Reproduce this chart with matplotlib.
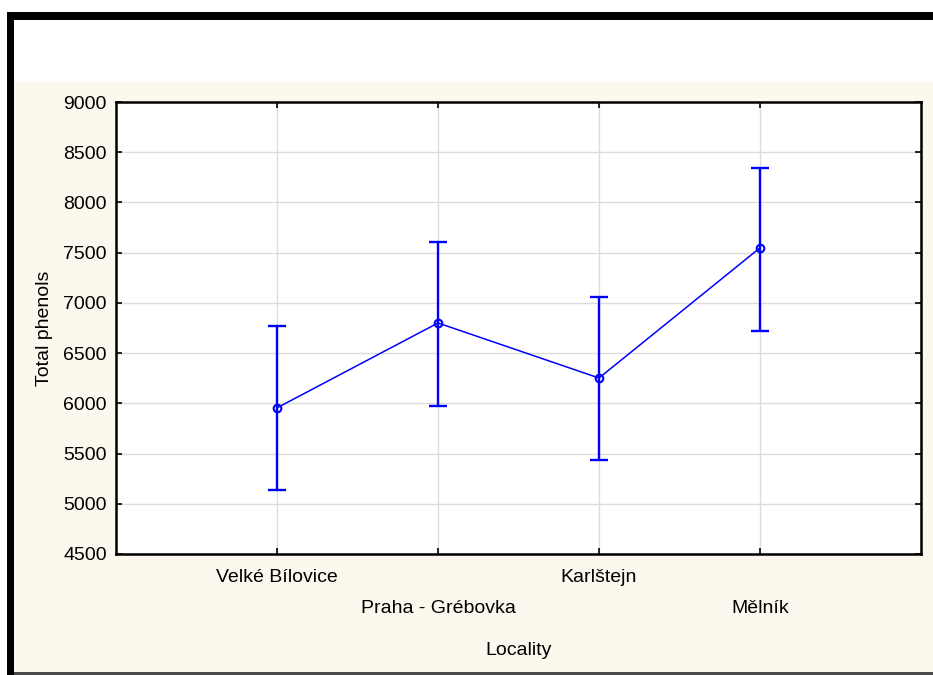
import matplotlib

matplotlib.use("Agg")
import matplotlib.pyplot as plt
from matplotlib.patches import Rectangle

plt.rcParams["font.family"] = ["Liberation Sans", "DejaVu Sans"]

localities = ["Velké Bílovice", "Praha - Grébovka", "Karlštejn", "Mělník"]
means = [5955, 6800, 6252, 7548]
upper = [6770, 7610, 7060, 8345]
lower = [5137, 5975, 5435, 6718]

W, H = 933, 675


def px_box(x0, y0, x1, y1):
    # pixel box (top-left origin) -> figure fraction rect
    return (x0 / W, 1 - y1 / H), (x1 - x0) / W, (y1 - y0) / H


fig = plt.figure(figsize=(W / 100, H / 100), dpi=100, facecolor="white")

# statistica style window frame
for (x0, y0, x1, y1), color in [
    ((14, 82, W, 673), "#fdf8ee"),
    ((7, 12, W, 20), "black"),
    ((7, 12, 14, H), "black"),
    ((14, 672, W, 675), "#4a4a4a"),
]:
    xy, w, h = px_box(x0, y0, x1, y1)
    fig.patches.append(Rectangle(xy, w, h, transform=fig.transFigure,
                                 facecolor=color, edgecolor="none", zorder=-10))

xy, w, h = px_box(116, 102, 921, 554)
ax = fig.add_axes([xy[0], xy[1], w, h])
ax.set_facecolor("white")

x = list(range(1, len(localities) + 1))
err_lo = [m - l for m, l in zip(means, lower)]
err_hi = [u - m for m, u in zip(means, upper)]

ax.errorbar(x, means, yerr=[err_lo, err_hi], fmt="none", ecolor="#0000ff",
            elinewidth=1.7, capsize=6.5, capthick=1.7, zorder=3)
ax.plot(x, means, color="#0000ff", linewidth=1.1, marker="o", markersize=5.5,
        markerfacecolor="none", markeredgewidth=1.5, zorder=4)

ax.set_xlim(0, 5)
ax.set_ylim(4500, 9000)
ax.set_yticks(range(4500, 9001, 500))
ax.set_xticks(x)
ax.set_xticklabels(localities)
ax.grid(True, color="#dcdcdc", linewidth=1)
ax.set_axisbelow(True)

ax.tick_params(direction="in", top=True, right=True, length=4, width=1.2,
               labelsize=14, colors="black")
ax.tick_params(axis="y", pad=6.5)
for i, tick in enumerate(ax.xaxis.get_major_ticks()):
    tick.set_pad(33 if i % 2 else 10.5)

for s in ax.spines.values():
    s.set_linewidth(1.8)
    s.set_color("black")

ax.set_ylabel("Total phenols", fontsize=14)
ax.yaxis.set_label_coords(-0.078, 0.5)
ax.set_xlabel("Locality", fontsize=14)
ax.xaxis.set_label_coords(0.5, -0.195)

fig.savefig("out.png", dpi=100, facecolor=fig.get_facecolor())
